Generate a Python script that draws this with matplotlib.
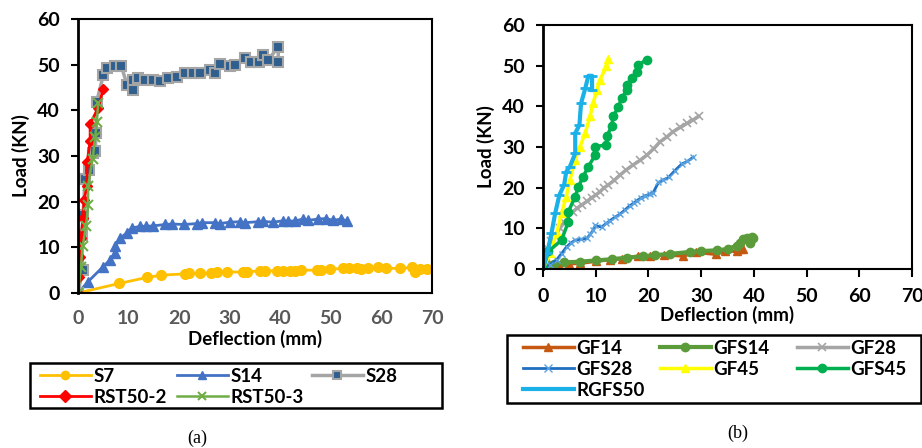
import matplotlib
matplotlib.use("Agg")
import matplotlib.pyplot as plt
from matplotlib.patches import Rectangle

plt.rcParams["font.family"] = ["Lato", "DejaVu Sans"]
plt.rcParams["font.weight"] = "bold"

# (a) load-deflection of the steel-reinforced beams
s7_x = [0, 8.2, 13.6, 16.5, 21.2, 22.0, 24.1, 26.4, 27.4, 29.4, 32.7, 33.5, 36.0, 37.0, 39.3, 40.5,
        41.9, 43.0, 44.2, 47.2, 48.0, 49.8, 52.5, 53.5, 55.1, 56.0, 57.4, 59.4, 61.0, 63.7, 66.0,
        66.6, 67.6, 69.0]
s7_y = [0, 2.1, 3.4, 3.9, 4.2, 4.3, 4.3, 4.4, 4.5, 4.6, 4.6, 4.7, 4.8, 4.9, 4.8, 4.9,
        4.8, 4.9, 5.0, 5.0, 5.1, 5.2, 5.4, 5.4, 5.4, 5.3, 5.4, 5.6, 5.4, 5.4, 5.6,
        4.7, 5.2, 5.3]
s14_x = [0, 2.0, 5.0, 6.3, 7.3, 7.4, 8.3, 9.6, 10.6, 12.3, 13.5, 14.9, 17.2, 18.5, 21.0, 23.5,
         24.5, 27.0, 28.0, 30.0, 32.0, 33.0, 35.5, 36.5, 38.5, 40.5, 41.5, 43.0, 44.5, 45.5,
         47.5, 49.0, 50.5, 52.0, 53.1]
s14_y = [0, 2.5, 5.8, 7.2, 8.7, 10.2, 12.0, 13.1, 14.2, 14.6, 14.6, 14.7, 15.0, 15.1, 15.0, 15.2,
         15.4, 15.4, 15.2, 15.5, 15.6, 15.4, 15.6, 15.7, 15.5, 15.8, 15.7, 15.8, 16.2, 15.9,
         16.2, 16.3, 15.9, 16.2, 15.8]
s28_x = [0, 0.9, 0.7, 1.0, 1.4, 2.2, 3.0, 3.4, 3.6, 3.7, 5.0, 5.8, 7.3, 8.6, 9.7, 10.9, 10.9,
         11.9, 13.2, 14.9, 16.2, 17.8, 19.5, 21.2, 22.8, 24.1, 26.1, 27.1, 28.1, 30.1, 31.1,
         33.0, 34.3, 35.7, 36.6, 37.6, 39.6, 39.6]
s28_y = [0, 5.0, 12.7, 17.0, 24.9, 27.0, 30.7, 31.0, 35.0, 41.9, 47.7, 49.2, 49.6, 49.6, 45.6,
         44.5, 46.6, 47.0, 46.6, 46.6, 46.5, 47.0, 47.4, 48.2, 48.2, 48.2, 48.8, 48.1, 50.1,
         49.6, 50.0, 51.4, 50.6, 50.6, 52.1, 51.0, 53.9, 50.6]
rst2_x = [0, 0.1, 0.3, 0.6, 1.0, 1.2, 1.8, 1.8, 2.4, 2.4, 4.0, 5.0]
rst2_y = [0, 3.6, 7.9, 12.0, 16.4, 20.4, 23.5, 28.6, 33.2, 37.0, 40.6, 44.7]
rst3_x = [0, 0.6, 0.9, 1.6, 2.0, 2.0, 2.9, 3.4, 3.7, 4.0]
rst3_y = [0, 5.8, 10.2, 14.6, 19.2, 23.5, 29.4, 34.1, 37.4, 41.5]

# (b) load-deflection of the GFRP beams
gf14_x = [0, 1.0, 3.0, 5.0, 7.0, 10.0, 12.7, 15.0, 18.1, 20.3, 23.0, 26.6, 29.0, 32.9, 34.5,
          36.7, 37.4, 38.0]
gf14_y = [0, 0.7, 1.1, 1.3, 1.4, 1.9, 2.3, 2.5, 3.2, 3.2, 3.5, 3.2, 4.1, 3.6, 4.5, 4.3, 4.8, 5.0]
gfs14_x = [0, 1.0, 2.0, 4.0, 7.0, 10.0, 13.0, 16.0, 19.0, 21.2, 24.0, 27.9, 30.0, 33.0, 35.0,
           36.7, 37.4, 38.0, 38.7, 39.3, 39.6, 39.9]
gfs14_y = [0, 0.9, 1.3, 1.6, 1.8, 2.1, 2.4, 2.8, 3.1, 3.4, 3.7, 4.2, 4.4, 4.6, 4.9,
           5.7, 6.3, 7.3, 7.7, 6.5, 7.9, 7.7]
gf28_x = [0, 0.5, 1.0, 1.6, 2.2, 3.2, 4.0, 4.8, 5.7, 6.5, 7.4, 8.3, 9.2, 10.0, 10.8, 11.6, 12.4,
          13.5, 14.6, 15.8, 17.1, 18.4, 19.7, 21.0, 22.2, 23.5, 24.7, 26.0, 27.3, 28.4, 29.5]
gf28_y = [0, 3.0, 5.0, 6.8, 8.2, 10.0, 11.5, 12.9, 14.1, 15.0, 15.8, 16.6, 17.5, 18.2, 19.0,
          20.0, 20.7, 21.8, 23.1, 24.4, 25.6, 26.7, 28.0, 29.6, 31.3, 32.5, 33.8, 34.8, 35.8,
          36.6, 37.5]
gfs28_x = [0, 1.3, 2.6, 3.5, 4.5, 5.3, 6.1, 7.2, 8.3, 9.0, 9.5, 9.9, 11.1, 12.0, 12.7, 13.6,
           14.6, 15.6, 16.5, 17.2, 17.8, 18.6, 19.4, 20.2, 20.9, 21.9, 22.8, 23.8, 25.0, 26.3,
           27.4, 28.5]
gfs28_y = [0, 1.0, 2.3, 3.8, 5.5, 6.4, 7.1, 7.3, 7.5, 8.6, 9.5, 10.7, 10.3, 11.2, 11.9, 12.7,
           13.5, 14.6, 15.6, 16.2, 16.8, 17.5, 18.0, 18.4, 18.8, 21.3, 21.9, 22.5, 24.2, 25.8,
           26.5, 27.5]
gf45_x = [0, 1.3, 2.6, 3.5, 4.4, 5.1, 6.1, 7.0, 8.0, 8.9, 9.5, 10.2, 10.8, 12.0, 12.4]
gf45_y = [0, 3.9, 8.8, 13.7, 17.8, 21.9, 26.8, 30.1, 33.4, 37.5, 40.7, 44.0, 46.5, 49.8, 51.6]
gfs45_x = [0, 1.0, 3.5, 4.8, 4.8, 6.1, 6.7, 7.6, 8.6, 9.9, 9.9, 12.0, 12.1, 13.0, 13.3, 14.3,
           14.9, 15.9, 15.9, 16.8, 17.8, 18.1, 19.7]
gfs45_y = [0, 4.3, 7.1, 11.6, 14.1, 17.8, 20.2, 22.7, 25.2, 28.0, 30.1, 30.5, 32.6, 35.1, 37.5,
           39.9, 42.0, 44.0, 45.3, 46.9, 48.5, 50.2, 51.5]
rgfs50_x = [0, 0.8, 1.6, 2.3, 3.1, 4.0, 4.4, 5.1, 6.1, 6.1, 6.9, 7.2, 8.0, 8.6, 9.3, 9.3]
rgfs50_y = [0, 3.9, 8.8, 13.7, 18.2, 20.7, 23.9, 25.2, 28.4, 33.4, 35.4, 40.7, 44.4, 47.5, 47.5, 44.0]

W, H = 922, 448
fig = plt.figure(figsize=(W / 100, H / 100), dpi=100)
ax1 = fig.add_axes([0.0846, 0.346, 0.3839, 0.6116])
ax2 = fig.add_axes([0.589, 0.3996, 0.4002, 0.5446])

s7, = ax1.plot(s7_x, s7_y, color="#FFC000", lw=2, marker="o", ms=7, label="S7")
s14, = ax1.plot(s14_x, s14_y, color="#4472C4", lw=2, marker="^", ms=7, label="S14")
s28, = ax1.plot(s28_x, s28_y, color="#A5A5A5", lw=2.5, marker="s", ms=6.5, mfc="#2F5F8F",
                mec="#A5A5A5", mew=1.5, label="S28")
rst2, = ax1.plot(rst2_x, rst2_y, color="#FF0000", lw=2, marker="D", ms=5.5, label="RST50-2")
rst3, = ax1.plot(rst3_x, rst3_y, color="#70AD47", lw=1.8, marker="x", ms=7, mew=1.5,
                 label="RST50-3")

gf14, = ax2.plot(gf14_x, gf14_y, color="#C65911", lw=2.5, marker="^", ms=6, label="GF14")
gfs14, = ax2.plot(gfs14_x, gfs14_y, color="#5B9B3A", lw=3, marker="o", ms=6, label="GFS14")
gf28, = ax2.plot(gf28_x, gf28_y, color="#A5A5A5", lw=2.5, marker="x", ms=6, mew=1.2,
                 label="GF28")
gfs28, = ax2.plot(gfs28_x, gfs28_y, color="#1F6FC0", lw=2, marker="x", ms=4, mew=1,
                  mec="#5BA3E0", label="GFS28")
gf45, = ax2.plot(gf45_x, gf45_y, color="#FFFF00", lw=2.5, marker="^", ms=6, label="GF45")
gfs45, = ax2.plot(gfs45_x, gfs45_y, color="#00B050", lw=2.5, marker="o", ms=6, label="GFS45")
rgfs50, = ax2.plot(rgfs50_x, rgfs50_y, color="#1AB0E8", lw=3, marker="_", ms=7, mew=2,
                   label="RGFS50")

for ax in (ax1, ax2):
    ax.set_xlim(0, 70)
    ax.set_ylim(0, 60)
    ax.set_xticks(range(0, 71, 10))
    ax.set_yticks(range(0, 61, 10))
    for side in ("top", "right", "bottom"):
        ax.spines[side].set_linewidth(1.5)
    ax.spines["left"].set_linewidth(2)
    ax.set_ylabel("Load (KN)", fontsize=13.5, fontweight="bold", labelpad=5)
    ax.set_xlabel("Deflection (mm)", fontsize=13.5, fontweight="bold")
    ax.tick_params(axis="y", direction="out", length=5, width=1.5, labelsize=14, pad=8)

ax1.tick_params(axis="x", length=0, labelsize=14, pad=12, labelcolor="#595959")
ax1.xaxis.labelpad = 2
ax2.tick_params(axis="x", direction="out", length=6, width=1.5, labelsize=14, pad=8)
ax2.xaxis.labelpad = 0


def legend_entry(handle, x, y):
    # one legend entry, placed by pixel position of its line start and row centre
    leg = fig.legend(handles=[handle], loc="center left", bbox_to_anchor=(x / W, 1 - y / H),
                     frameon=False, borderpad=0, borderaxespad=0, handlelength=2.7,
                     handletextpad=0.15, prop={"size": 13.5, "weight": "bold"})
    for line in leg.get_lines():
        line.set_markersize(6)
    return leg


def legend_box(x0, y0, x1, y1):
    fig.patches.append(Rectangle((x0 / W, 1 - y1 / H), (x1 - x0) / W, (y1 - y0) / H,
                                 transform=fig.transFigure, fill=False, edgecolor="black",
                                 linewidth=1.8))


cols_a = [40, 177, 312]
rows_a = [376, 397]
for i, h in enumerate([s7, s14, s28, rst2, rst3]):
    legend_entry(h, cols_a[i % 3], rows_a[i // 3])
legend_box(30, 363, 442, 408)

cols_b = [523, 660, 797]
rows_b = [348, 369, 390]
for i, h in enumerate([gf14, gfs14, gf28, gfs28, gf45, gfs45, rgfs50]):
    legend_entry(h, cols_b[i % 3], rows_b[i // 3])
legend_box(507, 335, 921, 403)

fig.text(197 / W, 1 - 438 / H, "(a)", ha="center", va="center", fontsize=13,
         family="Liberation Serif", fontweight="normal")
fig.text(738 / W, 1 - 433 / H, "(b)", ha="center", va="center", fontsize=13,
         family="Liberation Serif", fontweight="normal")

fig.savefig("out.png", dpi=100)
